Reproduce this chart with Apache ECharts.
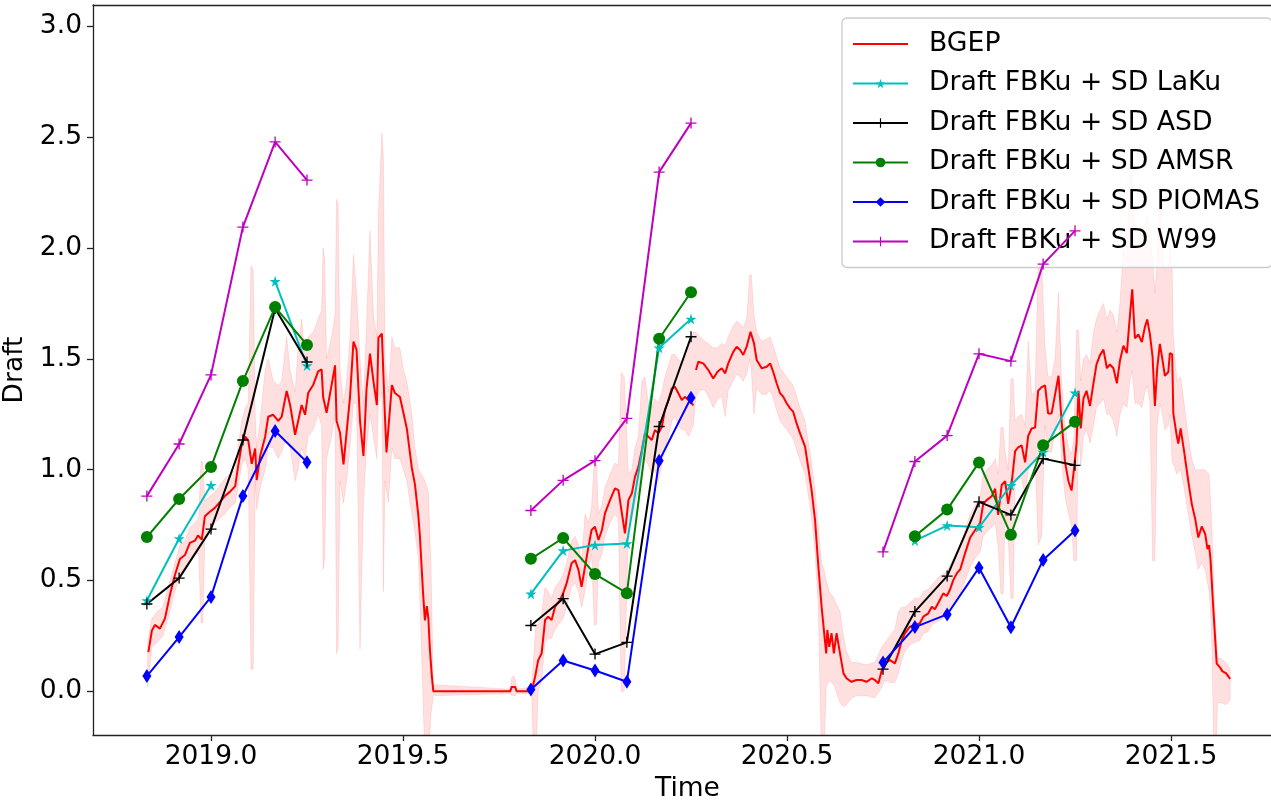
<!DOCTYPE html>
<html>
<head>
<meta charset="utf-8">
<script src="https://cdn.jsdelivr.net/npm/echarts@6/dist/echarts.min.js"></script>
<style>
html,body{margin:0;padding:0;background:#fff;}
#chart{width:1271px;height:802px;}
</style>
</head>
<body>
<div id="chart"></div>
<script>
// ---------------- DATA ----------------
// monthly sampling times (decimal year) for the three winters
const monthTimes = [
  2018.833, 2018.917, 2019.0, 2019.083, 2019.167, 2019.25,
  2019.833, 2019.917, 2020.0, 2020.083, 2020.167, 2020.25,
  2020.75, 2020.833, 2020.917, 2021.0, 2021.083, 2021.167, 2021.25
];
const seasonBreaks = [2019.5, 2020.5]; // no data between winters

const draftLaKu   = [0.41, 0.69, 0.93, null, 1.85, 1.47,   0.44, 0.635, 0.66, 0.667, 1.55, 1.68,   null, 0.68, 0.748, 0.74, 0.93, 1.08, 1.347];
const draftASD    = [0.394, 0.511, 0.732, 1.134, 1.728, 1.486,   0.297, 0.418, 0.168, 0.221, 1.195, 1.60,   0.10, 0.36, 0.52, 0.855, 0.796, 1.05, 1.02];
const draftAMSR   = [0.696, 0.868, 1.012, 1.40, 1.734, 1.563,   0.598, 0.692, 0.529, 0.443, 1.591, 1.801,   null, 0.70, 0.82, 1.033, 0.707, 1.11, 1.216];
const draftPIOMAS = [0.069, 0.245, 0.426, 0.881, 1.175, 1.034,   0.008, 0.139, 0.094, 0.043, 1.04, 1.325,   0.13, 0.29, 0.347, 0.558, 0.289, 0.593, 0.726];
const draftW99    = [0.881, 1.116, 1.428, 2.095, 2.479, 2.307,   0.816, 0.952, 1.041, 1.232, 2.343, 2.564,   0.629, 1.037, 1.154, 1.523, 1.49, 1.928, 2.078];

// BGEP daily draft (decimal year, draft); null = gap in record
const bgep = [
[2018.837,0.177],[2018.846,0.274],[2018.854,0.300],[2018.867,0.283],[2018.880,0.328],[2018.893,0.435],[2018.906,0.525],[2018.919,0.597],[2018.932,0.615],[2018.945,0.670],
[2018.958,0.680],[2018.966,0.703],[2018.976,0.685],[2018.984,0.790],[2018.997,0.810],[2019.010,0.828],[2019.023,0.854],[2019.036,0.881],[2019.049,0.900],[2019.063,0.926],
[2019.070,1.008],[2019.080,1.114],[2019.089,1.149],[2019.097,1.132],[2019.106,1.026],[2019.115,1.096],[2019.119,0.953],[2019.128,1.062],[2019.141,1.149],[2019.149,1.239],
[2019.162,1.248],[2019.175,1.220],[2019.184,1.239],[2019.197,1.355],[2019.206,1.292],[2019.219,1.158],[2019.227,1.220],[2019.236,1.292],[2019.245,1.248],[2019.253,1.346],
[2019.266,1.382],[2019.279,1.444],[2019.288,1.453],[2019.292,1.328],[2019.301,1.257],[2019.314,1.382],[2019.323,1.471],[2019.327,1.220],[2019.336,1.167],[2019.345,1.024],
[2019.353,1.167],[2019.362,1.328],[2019.371,1.578],[2019.379,1.542],[2019.388,1.220],[2019.397,1.062],[2019.405,1.364],[2019.414,1.524],[2019.423,1.400],[2019.432,1.292],
[2019.436,1.596],[2019.445,1.614],[2019.453,1.239],[2019.457,1.078],[2019.462,1.080],[2019.471,1.382],[2019.479,1.346],[2019.492,1.328],[2019.501,1.257],[2019.510,1.185],
[2019.523,1.008],[2019.531,0.935],[2019.540,0.792],[2019.544,0.700],[2019.552,0.450],[2019.557,0.320],[2019.562,0.385],[2019.566,0.330],[2019.570,0.190],[2019.575,0.070],
[2019.579,0.000],[2019.779,0.000],[2019.783,0.020],[2019.787,0.028],[2019.792,0.020],[2019.796,0.000],[2019.835,0.000],[2019.844,0.066],[2019.852,0.141],[2019.861,0.171],
[2019.870,0.322],[2019.878,0.337],[2019.887,0.322],[2019.896,0.382],[2019.909,0.412],[2019.917,0.442],[2019.926,0.487],[2019.939,0.578],[2019.948,0.592],[2019.957,0.547],
[2019.965,0.472],[2019.974,0.562],[2019.983,0.653],[2019.991,0.728],[2020.000,0.743],[2020.009,0.683],[2020.018,0.728],[2020.026,0.803],[2020.039,0.863],[2020.052,0.916],
[2020.061,0.908],[2020.070,0.803],[2020.078,0.713],[2020.087,0.863],[2020.096,0.894],[2020.104,0.968],[2020.113,1.013],[2020.122,1.089],[2020.130,1.164],[2020.139,1.149],
[2020.148,1.134],[2020.156,1.179],[2020.165,1.164],[2020.174,1.194],[2020.182,1.269],[2020.191,1.314],[2020.200,1.367],[2020.208,1.374],[2020.217,1.345],[2020.226,1.314],
[2020.234,1.329],[2020.243,1.314],[2020.252,1.300],[2020.256,1.290],[2020.259,null],
[2020.263,1.450],[2020.269,1.487],[2020.273,1.480],[2020.282,1.480],[2020.286,1.487],[2020.295,1.450],[2020.308,1.412],[2020.319,1.442],[2020.330,1.458],[2020.339,1.435],
[2020.347,1.480],[2020.360,1.532],[2020.369,1.555],[2020.378,1.540],[2020.386,1.518],[2020.395,1.555],[2020.405,1.623],[2020.414,1.570],[2020.421,1.495],[2020.434,1.458],
[2020.447,1.465],[2020.456,1.480],[2020.464,1.442],[2020.473,1.390],[2020.482,1.345],[2020.490,1.330],[2020.499,1.300],[2020.508,1.277],[2020.516,1.262],[2020.525,1.209],
[2020.534,1.164],[2020.547,1.104],[2020.555,1.013],[2020.564,0.908],[2020.573,0.773],[2020.581,0.578],[2020.590,0.382],[2020.596,0.277],[2020.602,0.171],[2020.605,0.277],
[2020.610,0.201],[2020.616,0.262],[2020.622,0.171],[2020.629,0.262],[2020.638,0.171],[2020.647,0.081],[2020.655,0.059],[2020.668,0.043],[2020.681,0.051],[2020.694,0.051],
[2020.707,0.043],[2020.721,0.059],[2020.729,0.051],[2020.738,0.036],[2020.747,0.096],[2020.755,0.126],[2020.768,0.141],[2020.781,0.126],[2020.790,0.171],[2020.799,0.231],
[2020.807,0.262],[2020.820,0.292],[2020.833,0.299],[2020.846,0.307],[2020.855,0.337],[2020.868,0.352],[2020.877,0.382],[2020.885,0.370],[2020.898,0.412],[2020.907,0.442],
[2020.916,0.430],[2020.924,0.457],[2020.933,0.502],[2020.942,0.532],[2020.951,0.550],[2020.964,0.625],[2020.977,0.694],[2020.990,0.728],[2021.003,0.761],[2021.011,0.846],
[2021.020,0.863],[2021.033,0.880],[2021.042,0.914],[2021.050,0.796],[2021.059,0.931],[2021.068,0.948],[2021.076,0.846],[2021.085,0.940],[2021.094,1.084],[2021.102,1.101],
[2021.111,1.110],[2021.120,1.033],[2021.128,1.152],[2021.137,1.186],[2021.146,1.190],[2021.154,1.356],[2021.163,1.373],[2021.172,1.381],[2021.180,1.254],[2021.189,1.254],
[2021.198,1.339],[2021.207,1.424],[2021.215,1.220],[2021.224,1.033],[2021.233,0.948],[2021.241,0.906],[2021.247,0.999],[2021.254,1.118],[2021.259,1.356],[2021.265,1.186],
[2021.272,1.322],[2021.280,1.356],[2021.289,1.288],[2021.298,1.390],[2021.306,1.475],[2021.315,1.517],[2021.324,1.542],[2021.333,1.458],[2021.341,1.475],[2021.350,1.458],
[2021.359,1.390],[2021.367,1.492],[2021.376,1.560],[2021.385,1.526],[2021.393,1.695],[2021.399,1.814],[2021.406,1.593],[2021.415,1.611],[2021.424,1.576],[2021.432,1.644],
[2021.438,1.678],[2021.445,1.611],[2021.452,1.509],[2021.458,1.288],[2021.464,1.458],[2021.471,1.568],[2021.478,1.492],[2021.484,1.424],[2021.493,1.441],[2021.497,1.526],
[2021.503,1.520],[2021.506,1.254],[2021.515,1.152],[2021.519,1.118],[2021.525,1.186],[2021.534,1.084],[2021.545,0.948],[2021.554,0.846],[2021.563,0.778],[2021.571,0.694],
[2021.580,0.744],[2021.589,0.710],[2021.595,0.642],[2021.599,0.660],[2021.603,0.592],[2021.609,0.405],[2021.615,0.235],[2021.619,0.125],[2021.628,0.107],[2021.634,0.090],
[2021.643,0.082],[2021.654,0.056]
];

// BGEP uncertainty envelope (decimal year, lower, upper)
const bgepBand = [
[2018.835,0.02,0.22],[2018.846,0.20,0.33],[2018.860,0.22,0.36],[2018.875,0.25,0.38],[2018.893,0.36,0.50],[2018.906,0.45,0.58],[2018.919,0.53,0.66],[2018.932,0.56,0.68],
[2018.945,0.60,0.74],[2018.958,0.62,0.76],[2018.968,0.62,0.78],[2018.974,0.31,1.04],[2018.979,0.31,1.03],[2018.984,0.70,0.86],[2018.997,0.74,0.88],[2019.010,0.76,0.90],
[2019.023,0.78,0.93],[2019.036,0.80,0.96],[2019.049,0.83,0.98],[2019.063,0.85,1.00],[2019.070,0.92,1.10],[2019.080,1.02,1.22],[2019.089,1.05,1.28],[2019.097,1.00,1.30],
[2019.104,0.10,1.92],[2019.110,0.10,1.90],[2019.115,0.95,1.25],[2019.119,0.82,1.10],[2019.128,0.92,1.22],[2019.141,1.00,1.45],[2019.149,1.10,1.50],[2019.162,1.10,1.40],
[2019.175,1.05,1.38],[2019.184,1.08,1.40],[2019.197,1.15,1.60],[2019.206,1.10,1.45],[2019.219,0.95,1.35],[2019.227,1.00,1.55],[2019.236,1.10,1.68],[2019.245,1.05,1.50],
[2019.253,1.15,1.60],[2019.266,1.18,1.62],[2019.279,1.25,1.68],[2019.288,1.20,1.72],[2019.292,0.55,2.00],[2019.296,0.60,1.95],[2019.301,1.05,1.50],[2019.314,1.15,1.60],
[2019.323,1.25,1.70],[2019.327,0.17,2.22],[2019.331,0.20,2.20],[2019.336,0.95,1.45],[2019.345,0.85,1.30],[2019.353,0.95,1.40],[2019.362,1.10,1.60],[2019.371,1.30,1.97],
[2019.379,1.30,1.80],[2019.388,0.19,1.50],[2019.397,0.85,1.30],[2019.405,1.10,1.65],[2019.414,1.25,2.08],[2019.423,1.15,1.70],[2019.432,1.05,1.60],[2019.436,1.30,2.15],
[2019.445,1.35,2.52],[2019.449,0.45,2.40],[2019.453,0.95,1.50],[2019.462,0.85,1.35],[2019.471,1.10,1.60],[2019.479,1.05,1.55],[2019.492,1.05,1.55],[2019.501,1.00,1.45],
[2019.510,0.95,1.40],[2019.523,0.80,1.25],[2019.531,0.72,1.10],[2019.540,0.60,1.00],[2019.548,0.20,0.98],[2019.557,-0.30,0.95],[2019.566,-0.30,0.90],[2019.573,-0.10,0.55],
[2019.579,-0.02,0.03],[2019.779,-0.01,0.01],[2019.783,-0.02,0.06],[2019.787,-0.02,0.07],[2019.792,-0.02,0.06],[2019.796,-0.01,0.01],[2019.835,-0.01,0.02],[2019.840,-0.30,0.15],
[2019.846,-0.30,0.30],[2019.852,0.00,0.30],[2019.861,0.05,0.35],[2019.870,0.22,0.47],[2019.878,0.24,0.45],[2019.887,0.24,0.42],[2019.896,0.28,0.47],[2019.909,0.31,0.50],
[2019.917,0.33,0.53],[2019.926,0.38,0.58],[2019.939,0.47,0.68],[2019.948,0.49,0.70],[2019.957,0.45,0.66],[2019.965,0.38,0.58],[2019.974,0.45,0.80],[2019.983,0.55,0.76],
[2019.991,0.62,0.83],[2019.998,0.30,1.04],[2020.004,0.30,1.02],[2020.009,0.58,0.80],[2020.018,0.62,0.84],[2020.026,0.70,0.92],[2020.039,0.76,0.98],[2020.052,0.80,1.03],
[2020.061,0.78,1.02],[2020.068,0.00,1.44],[2020.076,0.00,1.42],[2020.087,0.75,0.98],[2020.096,0.78,1.00],[2020.104,0.85,1.10],[2020.113,0.90,1.15],[2020.122,0.98,1.40],
[2020.130,1.05,1.42],[2020.139,1.02,1.30],[2020.148,0.98,1.28],[2020.156,1.00,1.32],[2020.165,0.95,1.30],[2020.174,1.02,1.35],[2020.182,1.10,1.42],[2020.191,1.15,1.47],
[2020.200,1.22,1.52],[2020.208,1.24,1.52],[2020.217,1.20,1.50],[2020.226,1.18,1.48],[2020.234,1.18,1.50],[2020.243,1.15,1.55],[2020.256,1.20,1.62],[2020.263,1.33,1.62],
[2020.273,1.36,1.60],[2020.286,1.36,1.58],[2020.295,1.33,1.57],[2020.308,1.28,1.55],[2020.319,1.32,1.55],[2020.330,1.33,1.57],[2020.339,1.24,1.56],[2020.347,1.36,1.60],
[2020.360,1.40,1.65],[2020.369,1.43,1.67],[2020.378,1.42,1.66],[2020.386,1.40,1.64],[2020.395,1.43,1.68],[2020.403,1.50,1.88],[2020.407,1.45,1.88],[2020.414,1.25,1.70],
[2020.421,1.37,1.62],[2020.434,1.34,1.58],[2020.447,1.34,1.59],[2020.456,1.36,1.60],[2020.464,1.32,1.56],[2020.473,1.27,1.51],[2020.482,1.22,1.46],[2020.499,1.18,1.42],
[2020.516,1.14,1.38],[2020.525,1.09,1.33],[2020.534,1.04,1.28],[2020.547,0.98,1.22],[2020.555,0.89,1.13],[2020.564,0.78,1.03],[2020.573,0.63,0.91],[2020.581,0.40,0.75],
[2020.590,-0.30,0.58],[2020.596,-0.30,0.55],[2020.602,0.02,0.50],[2020.610,0.05,0.45],[2020.622,0.03,0.42],[2020.638,-0.05,0.36],[2020.647,-0.07,0.25],[2020.655,-0.06,0.18],
[2020.668,-0.03,0.13],[2020.681,-0.02,0.13],[2020.707,-0.02,0.12],[2020.729,-0.03,0.13],[2020.747,0.02,0.20],[2020.755,0.05,0.22],[2020.768,0.04,0.25],[2020.781,0.04,0.28],
[2020.790,0.08,0.36],[2020.799,0.14,0.38],[2020.807,0.18,0.38],[2020.820,0.21,0.40],[2020.833,0.22,0.42],[2020.846,0.23,0.42],[2020.855,0.26,0.45],[2020.868,0.27,0.46],
[2020.877,0.30,0.48],[2020.898,0.32,0.52],[2020.916,0.34,0.54],[2020.933,0.40,0.60],[2020.951,0.44,0.66],[2020.964,0.50,0.73],[2020.977,0.56,0.80],[2020.990,0.60,0.84],
[2021.003,0.63,0.88],[2021.011,0.70,0.98],[2021.020,0.72,1.00],[2021.033,0.74,1.02],[2021.042,0.76,1.05],[2021.050,0.65,0.98],[2021.057,0.44,1.19],[2021.063,0.44,1.19],
[2021.068,0.80,1.08],[2021.076,0.70,1.00],[2021.083,0.42,1.41],[2021.089,0.42,1.41],[2021.094,0.94,1.22],[2021.102,0.96,1.24],[2021.111,0.96,1.25],[2021.120,0.88,1.20],
[2021.128,1.00,1.58],[2021.137,1.04,1.34],[2021.146,1.05,1.35],[2021.154,0.66,1.93],[2021.163,0.70,1.93],[2021.172,1.20,1.55],[2021.180,1.08,1.42],[2021.189,1.08,1.42],
[2021.198,1.18,1.50],[2021.207,1.25,1.80],[2021.215,1.05,1.40],[2021.224,0.88,1.20],[2021.233,0.80,1.10],[2021.241,0.75,1.07],[2021.247,0.59,1.15],[2021.254,0.59,1.63],
[2021.259,1.20,1.63],[2021.265,1.02,1.40],[2021.272,1.15,1.50],[2021.280,1.18,1.52],[2021.289,1.12,1.48],[2021.298,1.20,1.62],[2021.306,1.28,1.68],[2021.315,1.30,1.72],
[2021.324,1.32,1.75],[2021.333,1.25,1.68],[2021.341,1.25,1.72],[2021.350,1.22,1.70],[2021.359,1.15,1.62],[2021.367,1.25,1.75],[2021.376,1.30,2.00],[2021.385,1.28,1.95],
[2021.393,1.40,2.40],[2021.399,1.45,2.30],[2021.406,1.30,2.00],[2021.415,1.30,2.05],[2021.424,1.28,2.10],[2021.432,1.35,2.10],[2021.438,1.38,2.15],[2021.445,1.30,2.05],
[2021.452,0.59,1.95],[2021.458,0.59,1.80],[2021.464,1.20,1.95],[2021.471,1.30,2.30],[2021.478,1.25,1.95],[2021.484,1.18,1.90],[2021.493,1.20,1.92],[2021.497,1.25,2.00],
[2021.503,1.03,1.90],[2021.506,1.03,1.60],[2021.515,0.98,1.40],[2021.525,1.00,1.42],[2021.534,0.92,1.30],[2021.545,0.80,1.15],[2021.554,0.70,1.05],[2021.563,0.63,1.00],
[2021.571,0.55,1.00],[2021.580,0.58,1.00],[2021.589,0.55,1.00],[2021.599,0.45,0.98],[2021.605,0.30,0.80],[2021.612,-0.30,0.45],[2021.617,-0.30,0.28],[2021.621,-0.05,0.15],
[2021.628,-0.05,0.15],[2021.643,-0.06,0.13],[2021.654,-0.04,0.10]
];

const xTicks = [2019.0, 2019.5, 2020.0, 2020.5, 2021.0, 2021.5];
const yTicks = [0.0, 0.5, 1.0, 1.5, 2.0, 2.5, 3.0];

// ---------------- CHART ----------------
const FONT = 'DejaVu Sans';
const starPath = 'path://M50,0 L61,35 L98,35 L68,57 L79,91 L50,70 L21,91 L32,57 L2,35 L39,35 Z';
const plusPath = 'path://M44,0 H56 V44 H100 V56 H56 V100 H44 V56 H0 V44 H44 Z';

function seasonData(values) {
  const out = [];
  for (let i = 0; i < monthTimes.length; i++) {
    if (i === 6) out.push([seasonBreaks[0], null]);
    if (i === 12) out.push([seasonBreaks[1], null]);
    out.push([monthTimes[i], values[i]]);
  }
  return out;
}

function drawSeries(name, values, color, symbol, size) {
  return {
    name: name, type: 'line', data: seasonData(values),
    connectNulls: false, symbol: symbol, symbolSize: size, showSymbol: true,
    lineStyle: { color: color, width: 2 },
    itemStyle: { color: color, borderWidth: 0 },
    emphasis: { disabled: true }, z: 5
  };
}

const chart = echarts.init(document.getElementById('chart'), null, { renderer: 'canvas' });
const XMIN = 2018.6927, XMAX = 2021.789, YMIN = -0.197, YMAX = 3.097;

const option = {
  animation: false,
  backgroundColor: '#ffffff',
  textStyle: { fontFamily: FONT },
  grid: { left: 93, top: 5, width: 1189, height: 730, containLabel: false, outerBoundsMode: 'none' },
  xAxis: [{
    type: 'value', min: XMIN, max: XMAX, position: 'bottom',
    name: 'Time', nameLocation: 'middle', nameGap: 38,
    nameTextStyle: { fontFamily: FONT, fontSize: 26.5, color: '#000' },
    axisLine: { show: true, onZero: false, lineStyle: { color: '#222', width: 1.3 } },
    axisTick: { show: true, inside: false, length: 6, customValues: xTicks, lineStyle: { color: '#222', width: 1.3 } },
    axisLabel: { show: true, customValues: xTicks, margin: 9, fontFamily: FONT, fontSize: 26.5, color: '#000',
      formatter: v => Number(v).toFixed(1) },
    splitLine: { show: false }
  }, {
    type: 'value', min: XMIN, max: XMAX, position: 'top',
    axisLine: { show: true, onZero: false, lineStyle: { color: '#222', width: 1.3 } },
    axisTick: { show: false }, axisLabel: { show: false }, splitLine: { show: false }
  }],
  yAxis: {
    type: 'value', min: YMIN, max: YMAX,
    name: 'Draft', nameLocation: 'middle', nameGap: 58,
    nameTextStyle: { fontFamily: FONT, fontSize: 26.5, color: '#000' },
    axisLine: { show: true, onZero: false, lineStyle: { color: '#222', width: 1.3 } },
    axisTick: { show: true, inside: false, length: 6, customValues: yTicks, lineStyle: { color: '#222', width: 1.3 } },
    axisLabel: { show: true, customValues: yTicks, margin: 11, fontFamily: FONT, fontSize: 26.5, color: '#000',
      formatter: v => Number(v).toFixed(1) },
    splitLine: { show: false }
  },
  legend: {
    orient: 'vertical', left: 842, top: 18,
    padding: [11, 12, 11, 10], itemGap: 9.5, itemWidth: 55, itemHeight: 12,
    backgroundColor: 'rgba(255,255,255,0.8)', borderColor: '#cccccc', borderWidth: 1.3, borderRadius: 5,
    textStyle: { fontFamily: FONT, fontSize: 26.7, color: '#000', lineHeight: 30, padding: [0, 0, 0, 16] },
    data: [
      { name: 'BGEP', itemStyle: { opacity: 0 } },
      'Draft FBKu + SD LaKu', 'Draft FBKu + SD ASD', 'Draft FBKu + SD AMSR', 'Draft FBKu + SD PIOMAS', 'Draft FBKu + SD W99'
    ],
    selectedMode: false
  },
  series: [
    {
      type: 'custom', name: 'band', clip: true, silent: true, z: 1,
      data: [[2020.0, 1.0]],
      renderItem: function (params, api) {
        const up = bgepBand.map(d => api.coord([d[0], d[2]]));
        const lo = bgepBand.map(d => api.coord([d[0], d[1]])).reverse();
        return {
          type: 'polygon',
          shape: { points: up.concat(lo) },
          style: { fill: 'rgba(255,0,0,0.12)', stroke: 'rgba(255,0,0,0.10)', lineWidth: 1 }
        };
      }
    },
    {
      name: 'BGEP', type: 'line', data: bgep, connectNulls: false,
      symbol: 'none', showSymbol: false,
      lineStyle: { color: '#ff0000', width: 2 }, itemStyle: { color: '#ff0000' },
      emphasis: { disabled: true }, z: 3
    },
    drawSeries('Draft FBKu + SD LaKu', draftLaKu, '#00bfbf', starPath, 11),
    drawSeries('Draft FBKu + SD ASD', draftASD, '#000000', plusPath, 11),
    drawSeries('Draft FBKu + SD AMSR', draftAMSR, '#008000', 'circle', 12),
    drawSeries('Draft FBKu + SD PIOMAS', draftPIOMAS, '#0000ff', 'diamond', [9, 14]),
    drawSeries('Draft FBKu + SD W99', draftW99, '#bf00bf', plusPath, 11)
  ]
};
chart.setOption(option);
</script>
</body>
</html>
